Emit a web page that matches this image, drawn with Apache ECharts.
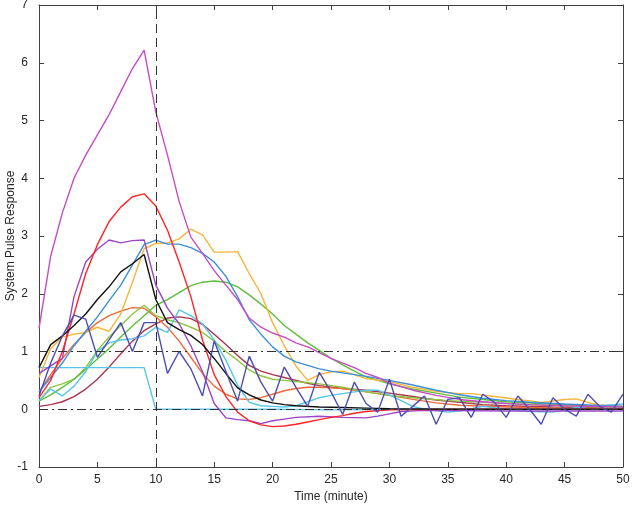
<!DOCTYPE html>
<html>
<head>
<meta charset="utf-8">
<script src="https://cdn.jsdelivr.net/npm/echarts@6/dist/echarts.min.js"></script>
<style>html,body{margin:0;padding:0;background:#fff;}#c{width:633px;height:511px;}</style>
</head>
<body>
<div id="c"></div>
<script>
// Tick values
const xTicks = [0,5,10,15,20,25,30,35,40,45,50];
const yTicks = [-1,0,1,2,3,4,5,6,7];

// Reference levels
const stepTime = 10;
const levelLines = [1, 0];

// Series: [time (minute), response]
const maroon = [[0,0.05],[1,0.08],[2,0.13],[3,0.22],[4,0.35],[5,0.52],[6,0.73],[7,0.96],[8,1.18],[9,1.36],[10,1.48],[11,1.58],[12,1.6],[13,1.57],[14,1.47],[15,1.3],[16,1.12],[17,0.93],[18,0.76],[19,0.66],[20,0.6],[21,0.55],[22,0.5],[23,0.45],[24,0.41],[26,0.36],[28,0.33],[30,0.28],[32,0.22],[34,0.16],[36,0.12],[38,0.08],[40,0.06],[44,0.04],[50,0.02]];
const coral = [[0,0.3],[1,0.6],[2,0.88],[3,1.12],[4,1.33],[5,1.5],[6,1.62],[7,1.7],[8,1.76],[9,1.75],[10,1.6],[11,1.42],[12,1.18],[13,0.9],[14,0.62],[15,0.4],[16,0.26],[17,0.18],[18,0.17],[19,0.2],[20,0.26],[21,0.32],[22,0.36],[23,0.38],[24,0.38],[26,0.36],[28,0.3],[30,0.24],[32,0.17],[34,0.11],[36,0.07],[40,0.04],[45,0.02],[50,0.01]];
const lightGreen = [[0,0.15],[1,0.38],[2,0.44],[3,0.52],[4,0.72],[5,1.02],[6,1.25],[7,1.45],[8,1.65],[9,1.8],[10,1.62],[11,1.55],[12,1.5],[13,1.42],[14,1.33],[15,1.18],[16,1.0],[17,0.85],[18,0.68],[19,0.58],[20,0.52],[21,0.5],[22,0.48],[24,0.44],[26,0.38],[28,0.3],[30,0.24],[32,0.2],[35,0.15],[38,0.12],[42,0.08],[46,0.05],[50,0.03]];
const green = [[0,0.14],[1,0.25],[2,0.38],[3,0.52],[4,0.69],[5,0.87],[6,1.05],[7,1.25],[8,1.44],[9,1.62],[10,1.8],[11,1.9],[12,2.02],[13,2.14],[14,2.2],[15,2.22],[16,2.2],[17,2.12],[18,1.98],[19,1.82],[20,1.65],[21,1.45],[22,1.3],[23,1.15],[24,1.02],[25,0.88],[26,0.77],[27,0.66],[28,0.56],[29,0.5],[30,0.44],[32,0.35],[34,0.28],[36,0.21],[38,0.17],[40,0.13],[43,0.1],[46,0.07],[50,0.05]];
const cyanFlat = [[0,0.72],[3,0.72],[6,0.72],[9,0.72],[10,0.0],[15,0.0],[20,0.0],[25,-0.01],[30,0.0],[40,0.0],[50,0.0]];
const cyan = [[0,0.15],[1,0.35],[2,0.23],[3,0.4],[4,0.65],[5,1.0],[6,1.15],[7,1.2],[8,1.22],[9,1.27],[10,1.42],[11,1.33],[12,1.72],[13,1.62],[14,1.48],[15,1.2],[16,0.85],[17,0.42],[18,0.12],[19,0.06],[20,0.05],[21,0.04],[22,0.06],[23,0.13],[24,0.2],[25,0.24],[26,0.27],[27,0.3],[28,0.33],[29,0.33],[30,0.25],[31,0.15],[32,0.05],[33,0.0],[35,-0.05],[36,-0.03],[38,0.05],[40,0.0],[42,-0.04],[44,-0.05],[46,0.03],[47,0.05],[50,0.09]];
const yellow = [[0,0.55],[1,1.05],[2,1.25],[3,1.3],[4,1.33],[5,1.42],[6,1.35],[7,1.65],[8,2.2],[9,2.78],[10,2.87],[11,2.88],[12,2.95],[13,3.12],[14,3.02],[15,2.72],[16,2.72],[17,2.73],[18,2.35],[19,2.0],[20,1.5],[21,1.1],[22,0.75],[23,0.5],[24,0.6],[25,0.65],[26,0.66],[27,0.6],[28,0.53],[30,0.48],[32,0.38],[34,0.31],[36,0.27],[37,0.27],[39,0.22],[41,0.17],[43,0.12],[45,0.17],[46,0.18],[47,0.12],[48,0.07],[50,0.05]];
const blue = [[0,0.3],[1,0.55],[2,0.8],[3,1.1],[4,1.35],[5,1.6],[6,1.88],[7,2.15],[8,2.5],[9,2.85],[10,2.93],[11,2.86],[12,2.86],[13,2.8],[14,2.7],[15,2.55],[16,2.3],[17,1.95],[18,1.55],[19,1.3],[20,1.08],[21,0.92],[22,0.82],[23,0.76],[24,0.7],[25,0.66],[26,0.63],[28,0.57],[30,0.5],[32,0.42],[34,0.33],[36,0.25],[38,0.19],[40,0.15],[42,0.12],[45,0.09],[50,0.05]];
const purple = [[0,0.62],[1,0.75],[2,0.88],[3,1.95],[4,2.55],[5,2.77],[6,2.93],[7,2.88],[8,2.92],[9,2.93],[10,2.15],[11,1.75],[12,1.48],[13,1.1],[14,0.65],[15,0.1],[16,-0.15],[17,-0.18],[18,-0.2],[19,-0.25],[20,-0.2],[21,-0.17],[22,-0.14],[24,-0.12],[26,-0.14],[28,-0.15],[29,-0.12],[30,-0.08],[31,-0.04],[33,-0.02],[40,-0.03],[50,-0.03]];
const red = [[0,0.2],[1,0.5],[2,1.0],[3,1.65],[4,2.35],[5,2.85],[6,3.25],[7,3.5],[8,3.68],[9,3.73],[10,3.52],[11,3.1],[12,2.55],[13,1.95],[14,1.2],[15,0.6],[16,0.22],[17,-0.05],[18,-0.2],[19,-0.27],[20,-0.3],[21,-0.29],[22,-0.26],[23,-0.22],[24,-0.18],[25,-0.14],[26,-0.11],[27,-0.07],[28,-0.04],[30,-0.01],[35,0],[40,0],[50,0]];
const black = [[0,0.72],[1,1.12],[2,1.27],[3,1.45],[4,1.65],[5,1.9],[6,2.12],[7,2.38],[8,2.52],[9,2.68],[10,1.9],[11,1.5],[12,1.38],[13,1.28],[14,1.12],[15,0.88],[16,0.62],[17,0.37],[18,0.25],[19,0.16],[20,0.11],[21,0.08],[22,0.06],[24,0.04],[26,0.03],[28,0.02],[30,0.01],[35,0],[50,0]];
const magenta = [[0,1.4],[1,2.65],[2,3.4],[3,4.0],[4,4.4],[5,4.75],[6,5.1],[7,5.5],[8,5.9],[9,6.22],[10,5.15],[11,4.4],[12,3.6],[13,2.98],[14,2.7],[15,2.4],[16,2.15],[17,1.9],[18,1.58],[19,1.42],[20,1.32],[21,1.25],[22,1.15],[23,1.08],[24,0.98],[25,0.88],[26,0.8],[27,0.72],[28,0.62],[29,0.55],[30,0.45],[32,0.33],[34,0.24],[36,0.17],[38,0.13],[40,0.1],[42,0.08],[45,0.06],[50,0.04]];
const navy = [[0,0.23],[1,0.8],[2,1.27],[3,1.63],[4,1.56],[5,0.9],[6,1.2],[7,1.5],[8,1.0],[9,1.5],[10,1.5],[11,0.62],[12,1.0],[13,0.7],[14,0.23],[15,1.18],[16,0.66],[17,0.14],[18,0.92],[19,0.47],[20,0.14],[21,0.73],[22,0.38],[23,0.05],[24,0.64],[25,0.3],[26,-0.09],[27,0.47],[28,0.1],[29,-0.05],[30,0.52],[31,-0.12],[32,0.05],[33,0.23],[34,-0.26],[35,0.17],[36,0.2],[37,-0.14],[38,0.26],[39,0.12],[40,-0.14],[41,0.23],[42,0.0],[43,-0.26],[44,0.2],[45,0.0],[46,-0.12],[47,0.26],[48,0.05],[49,-0.05],[50,0.26]];

const seriesDefs = [
  ['maroon', maroon, '#A8344E'],
  ['coral', coral, '#F06A3A'],
  ['lightGreen', lightGreen, '#8CC63E'],
  ['green', green, '#5FBF3A'],
  ['cyanFlat', cyanFlat, '#57C5E8'],
  ['cyan', cyan, '#57C5E8'],
  ['yellow', yellow, '#F7B538'],
  ['blue', blue, '#3B8FD9'],
  ['purple', purple, '#9B45C4'],
  ['red', red, '#FF2424'],
  ['black', black, '#111111'],
  ['magenta', magenta, '#C84BC5'],
  ['navy', navy, '#4B4DB5']
];

const font = 'Liberation Sans, Arial, Helvetica, sans-serif';
const txt = '#262626';
const axCol = '#404040';

const series = [{
  type: 'line', name: 'refs', data: [], silent: true,
  markLine: {
    silent: true, symbol: 'none', animation: false,
    label: {show: false},
    data: [
      {xAxis: stepTime, lineStyle: {type: [9, 5], color: '#333', width: 1}},
      ...levelLines.map(v => ({yAxis: v, lineStyle: {type: [9, 4, 2, 4], color: '#333', width: 1}}))
    ]
  }
}];
seriesDefs.forEach(([n, d, c]) => series.push({
  type: 'line', name: n, data: d, showSymbol: false, symbol: 'none',
  lineStyle: {color: c, width: 1.4}, itemStyle: {color: c}, animation: false
}));

const commonX = {type: 'value', min: 0, max: 50, interval: 5, splitLine: {show: false}};
const commonY = {type: 'value', min: -1, max: 7, interval: 1, splitLine: {show: false}};
const axLine = {show: true, onZero: false, lineStyle: {color: axCol, width: 1}};
const axTick = {show: true, inside: true, length: 5, lineStyle: {color: axCol}};

const chart = echarts.init(document.getElementById('c'), null, {renderer: 'canvas'});
chart.setOption({
  animation: false,
  backgroundColor: '#fff',
  grid: {left: 39, right: 10, top: 5, bottom: 44, containLabel: false, outerBoundsMode: 'none'},
  xAxis: [
    Object.assign({}, commonX, {
      position: 'bottom',
      name: 'Time (minute)', nameLocation: 'middle', nameGap: 24, nameMoveOverlap: false,
      nameTextStyle: {fontFamily: font, fontSize: 12, color: txt},
      axisLine: axLine, axisTick: axTick,
      axisLabel: {show: true, margin: 7, fontFamily: font, fontSize: 12, color: txt}
    }),
    Object.assign({}, commonX, {
      position: 'top',
      axisLine: axLine, axisTick: axTick,
      axisLabel: {show: false}
    })
  ],
  yAxis: [
    Object.assign({}, commonY, {
      position: 'left',
      name: 'System Pulse Response', nameLocation: 'middle', nameGap: 22, nameRotate: 90, nameMoveOverlap: false,
      nameTextStyle: {fontFamily: font, fontSize: 12, color: txt},
      axisLine: axLine, axisTick: axTick,
      axisLabel: {show: true, margin: 11, fontFamily: font, fontSize: 12, color: txt}
    }),
    Object.assign({}, commonY, {
      position: 'right',
      axisLine: axLine, axisTick: axTick,
      axisLabel: {show: false}
    })
  ],
  series: series
});
</script>
</body>
</html>
